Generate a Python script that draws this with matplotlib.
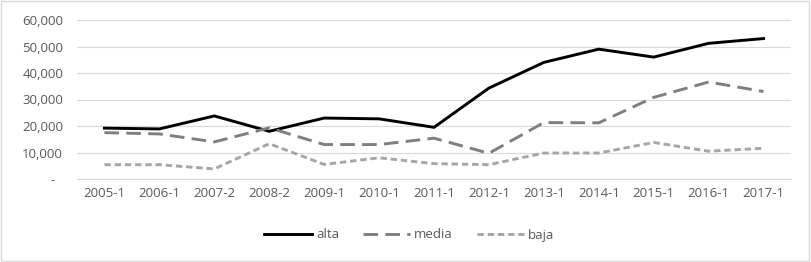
import matplotlib.pyplot as plt
import matplotlib.ticker as mticker

# data
periods = ['2005-1', '2006-1', '2007-2', '2008-2', '2009-1', '2010-1', '2011-1',
           '2012-1', '2013-1', '2014-1', '2015-1', '2016-1', '2017-1']
alta = [19200, 18900, 23800, 18000, 23000, 22700, 19500, 34300, 44000, 49000, 46000, 51200, 53000]
media = [17500, 17000, 14000, 19300, 13000, 13000, 15400, 9700, 21300, 21200, 30800, 36600, 33000]
baja = [5400, 5400, 3800, 13300, 5500, 8000, 5800, 5400, 9800, 9800, 13800, 10500, 11600]

plt.rcParams['font.family'] = ['Open Sans', 'DejaVu Sans']
text_color = '#595959'

fig = plt.figure(figsize=(8.11, 2.62), dpi=100)
ax = fig.add_axes([77 / 811, 1 - 179 / 262, (791 - 77) / 811, (179 - 20) / 262])

x = range(len(periods))
ax.plot(x, alta, color='black', linewidth=2.1, label='alta', solid_joinstyle='miter')
ax.plot(x, media, color='#7f7f7f', linewidth=2.1, dashes=(5, 2.5), label='media')
ax.plot(x, baja, color='#a6a6a6', linewidth=2.1, dashes=(2.2, 1.3), label='baja')

ax.set_xlim(-0.5, len(periods) - 0.5)
ax.set_ylim(0, 60000)
ax.set_yticks(range(0, 60001, 10000))
ax.yaxis.set_major_formatter(mticker.FuncFormatter(lambda v, p: '-' if v == 0 else f'{int(v):,}'))
ax.set_xticks(list(x))
ax.set_xticklabels(periods)

ax.grid(axis='y', color='#d9d9d9', linewidth=0.8)
ax.set_axisbelow(True)
for s in ['top', 'right', 'left']:
    ax.spines[s].set_visible(False)
ax.spines['bottom'].set_color('#d9d9d9')
ax.tick_params(axis='both', length=0, labelsize=9.5, colors=text_color, pad=6)
ax.tick_params(axis='y', pad=10)
# "-" for zero sits a bit left of the numbers, as in the accounting format
ax.get_yticklabels()[0].set_x(-0.012)

leg = fig.legend(loc='center', bbox_to_anchor=(0.505, 1 - 235 / 262), ncol=3, frameon=False,
                 fontsize=9.5, handlelength=3.6, columnspacing=1.8, handletextpad=0.3)
for t in leg.get_texts():
    t.set_color(text_color)

# light border around the chart
fig.patches.append(plt.Rectangle((0.001, 0.002), 0.997, 0.995, transform=fig.transFigure,
                                 fill=False, edgecolor='#d9d9d9', linewidth=1))

fig.savefig('out.png', dpi=100)
